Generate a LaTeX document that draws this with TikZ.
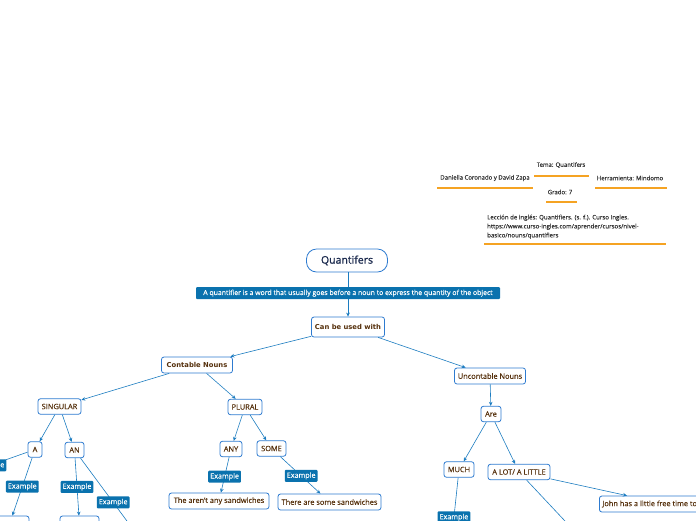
\documentclass[tikz,border=0pt]{standalone}
\usepackage{fontspec}
\setmainfont{Open Sans}[FakeBold=0.3]
\newfontfamily\verd{DejaVu Sans}
\newfontfamily\titlefont{Open Sans}[FakeBold=1.2]
\usetikzlibrary{arrows.meta}
\definecolor{bordercol}{HTML}{2E7BD0}
\definecolor{linecol}{HTML}{1C7CC0}
\definecolor{labfill}{HTML}{0A72AE}
\definecolor{browntxt}{HTML}{55300C}
\definecolor{orangeline}{HTML}{F5A323}
\definecolor{navy}{HTML}{1B2A4E}
\definecolor{infotxt}{HTML}{333333}
\begin{document}
\begin{tikzpicture}[x=1pt,y=-1pt,
  box/.style={draw=bordercol, line width=0.8pt, rounded corners=2.5pt, fill=white, text=browntxt,
    font=\fontsize{7.4}{8.5}\selectfont, inner xsep=2pt, inner ysep=0pt, minimum height=15.5pt},
  boldbox/.style={box, font=\verd\bfseries\fontsize{6.8}{8}\selectfont},
  lab/.style={fill=labfill, text=white, rounded corners=1pt, font=\fontsize{7.2}{8}\selectfont,
    inner xsep=2pt, inner ysep=0pt, minimum height=12pt},
  conn/.style={draw=linecol, line width=0.6pt, -{Stealth[length=4pt,width=3.6pt]}},
  plain/.style={draw=linecol, line width=0.6pt},
  info/.style={text=infotxt, font=\fontsize{6}{7}\selectfont, inner sep=0pt},
  uline/.style={draw=orangeline, line width=1.1pt}
]
\useasboundingbox (0,0) rectangle (696,520);
\clip (0,0) rectangle (696,520);

% ---------- info block ----------
\node[info] (tema) at (561,165) {Tema: Quantifers};
\node[info] (autores) at (485,178) {Daniella Coronado y David Zapa};
\node[info] (herr) at (630,178) {Herramienta: Mindomo};
\node[info] (grado) at (560,192) {Grado: 7};
\node[info, anchor=north west, align=left, font=\fontsize{6.1}{9}\selectfont] (leccion) at (487,214.5)
  {Lección de inglés: Quantifiers. (s. f.). Curso Ingles.\\https://www.curso-ingles.com/aprender/cursos/nivel-\\basico/nouns/quantifiers};
\draw[uline] (534,176) -- (589,176);
\draw[uline] (437,188) -- (533,188);
\draw[uline] (595,188) -- (667,188);
\draw[uline] (546,202) -- (577,202);
\draw[uline] (484,244) -- (666,244);

% ---------- main nodes ----------
\node[draw=bordercol, line width=0.8pt, rounded corners=10pt, fill=white, text=navy,
  font=\titlefont\fontsize{10.5}{12}\selectfont, minimum width=81pt, minimum height=23pt] (title) at (347,260.5) {Quantifers};
\node[boldbox, minimum width=73pt, minimum height=20pt] (canbe) at (348,327) {Can be used with};
\node[boldbox, minimum width=71pt, minimum height=16pt] (contable) at (197,365) {Contable Nouns};
\node[box, minimum width=71pt, minimum height=16pt] (uncontable) at (490,376) {Uncontable Nouns};

\node[box, minimum width=43pt] (singular) at (59.5,406.5) {SINGULAR};
\node[box, minimum width=34pt] (plural) at (245,407) {PLURAL};
\node[box, minimum width=14pt, inner xsep=1pt] (a) at (35,449.5) {A};
\node[box, minimum width=19pt, inner xsep=1pt] (an) at (74.5,450) {AN};
\node[box, minimum width=22pt, inner xsep=1pt] (any) at (231,449) {ANY};
\node[box, minimum width=29pt, inner xsep=1pt] (some) at (271.5,448.5) {SOME};
\node[box, minimum width=100pt, minimum height=16pt] (anyex) at (219,501) {The aren't any sandwiches};
\node[box, minimum width=103pt, minimum height=16pt] (someex) at (329.5,502) {There are some sandwiches};

\node[box, minimum width=20pt, inner xsep=1pt] (are) at (491,414) {Are};
\node[box, minimum width=30pt, inner xsep=1pt] (much) at (459,469.5) {MUCH};
\node[box, minimum width=62pt] (alot) at (519,472) {A LOT/ A LITTLE};
\node[box, anchor=west, minimum height=16pt, inner xsep=3pt] (john) at (599,504) {John has a little free time to};

% partially visible lower boxes
\node[box, minimum width=39pt, minimum height=16pt] (aex) at (9.5,524) {};
\node[box, minimum width=39pt, minimum height=16pt] (anex) at (79.5,524) {};

% off-picture ends
\coordinate (aleft) at (-60,483);
\coordinate (anoff) at (141,540);
\coordinate (muchoff) at (451,545);
\coordinate (alotoff) at (580,537);

% ---------- connectors ----------
\draw[conn] (title.south -| canbe.north) -- node[lab, pos=0.47, minimum width=304pt, font=\fontsize{6.9}{8}\selectfont] {A quantifier is a word that usually goes before a noun to express the quantity of the object} (canbe.north);
\draw[conn] (canbe) -- (contable);
\draw[conn] (canbe) -- (uncontable);
\draw[conn] (contable) -- (singular);
\draw[conn] (contable) -- (plural);
\draw[conn] (singular) -- (a);
\draw[conn] (singular) -- (an);
\draw[conn] (plural) -- (any);
\draw[conn] (plural) -- (some);
\draw[conn] (any) -- node[lab, pos=0.55] {Example} (anyex);
\draw[conn] (some) -- node[lab, pos=0.52] {Example} (someex);

\draw[plain] (a) -- node[lab, pos=0.43] {Example} (aleft);
\draw[conn] (a) -- node[lab, pos=0.5] {Example} (aex);
\draw[conn] (an) -- node[lab, pos=0.5] {Example} (anex);
\draw[plain] (an) -- node[lab, pos=0.54] {Example} (anoff);

\draw[conn] (uncontable) -- (are);
\draw[conn] (are) -- (much);
\draw[conn] (are) -- (alot);
\draw[plain] (much) -- node[lab, pos=0.59] {Example} (muchoff);
\draw[plain] (alot) -- (alotoff);
\draw[conn] (alot) -- ([xshift=28pt]john.north west);
\end{tikzpicture}
\end{document}
